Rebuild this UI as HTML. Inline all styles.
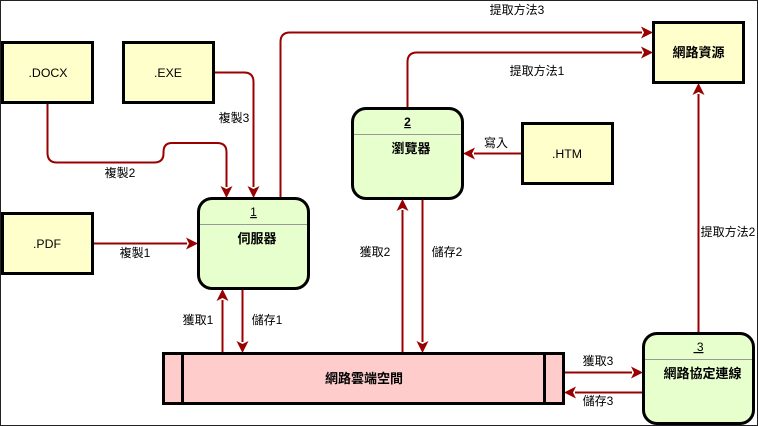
<!DOCTYPE html>
<html><head><meta charset="utf-8"><style>
html,body{margin:0;padding:0;background:#fff;width:758px;height:426px;overflow:hidden}
svg{display:block}
text{font-family:"Liberation Sans","WenQuanYi Zen Hei","Noto Sans CJK TC",sans-serif;font-size:12px;fill:#000;text-anchor:middle}
.b{font-weight:bold;font-size:13px}
.e{font-size:12.300px}
.l{fill:none;stroke:#990000;stroke-width:2}
.a{fill:#990000}
.n{stroke:#000;stroke-width:3}
.d{stroke:#999;stroke-width:1}
</style></head><body>
<svg width="758" height="426" viewBox="0 0 758 426" xmlns="http://www.w3.org/2000/svg">
<rect x="0.500" y="0.500" width="757" height="425" fill="#fff" stroke="#222" stroke-width="1"/>

<!-- connectors -->
<path class="l" d="M47.500 104V153Q47.500 162.500 57 162.500H154Q163.500 162.500 163.500 153.500V152Q163.500 143 172 143H217Q226.500 143 226.500 152V187"/>
<path class="l" d="M214 72.500H244Q253.500 72.500 253.500 82V187"/>
<path class="l" d="M280.500 198V42Q280.500 32.500 290 32.500H642"/>
<path class="l" d="M407.500 108V62Q407.500 52.500 417 52.500H642"/>
<path class="l" d="M522 153.500H474"/>
<path class="l" d="M93 243.500H187"/>
<path class="l" d="M222.500 352V300"/>
<path class="l" d="M242.500 290V342"/>
<path class="l" d="M402.500 352V210"/>
<path class="l" d="M422.500 199V342"/>
<path class="l" d="M698.500 333V94"/>
<path class="l" d="M564 372.500H632"/>
<path class="l" d="M643 392.500H575"/>

<!-- arrowheads -->
<polygon class="a" points="226.500,198 220.500,186 226.500,189 232.500,186"/>
<polygon class="a" points="253.500,198 247.500,186 253.500,189 259.500,186"/>
<polygon class="a" points="653,32.500 641,26.500 644,32.500 641,38.500"/>
<polygon class="a" points="653,52.500 641,46.500 644,52.500 641,58.500"/>
<polygon class="a" points="463,153.500 475,147.500 472,153.500 475,159.500"/>
<polygon class="a" points="198,243.500 186,237.500 189,243.500 186,249.500"/>
<polygon class="a" points="222.500,289 216.500,301 222.500,298 228.500,301"/>
<polygon class="a" points="242.500,353 236.500,341 242.500,344 248.500,341"/>
<polygon class="a" points="402.500,199 396.500,211 402.500,208 408.500,211"/>
<polygon class="a" points="422.500,353 416.500,341 422.500,344 428.500,341"/>
<polygon class="a" points="698.500,83 692.500,95 698.500,92 704.500,95"/>
<polygon class="a" points="643,372.500 631,366.500 634,372.500 631,378.500"/>
<polygon class="a" points="564,392.500 576,386.500 573,392.500 576,398.500"/>

<!-- external entities -->
<rect class="n" x="2.500" y="42.500" width="90" height="60" fill="#ffffcc"/>
<rect class="n" x="123.500" y="42.500" width="90" height="60" fill="#ffffcc"/>
<rect class="n" x="2.500" y="213.500" width="90" height="60" fill="#ffffcc"/>
<rect class="n" x="522.500" y="123.500" width="90" height="60" fill="#ffffcc"/>
<rect class="n" x="653.500" y="22.500" width="90" height="60" fill="#ffffcc"/>

<!-- processes -->
<rect class="n" x="198.500" y="198.500" width="110" height="90" rx="13.500" fill="#e6ffcc"/>
<line class="d" x1="200" y1="224.500" x2="307" y2="224.500"/>
<rect class="n" x="352.500" y="108.500" width="110" height="90" rx="13.500" fill="#e6ffcc"/>
<line class="d" x1="354" y1="134.500" x2="461" y2="134.500"/>
<rect class="n" x="643.500" y="333.500" width="110" height="90" rx="13.500" fill="#e6ffcc"/>
<line class="d" x1="645" y1="359.500" x2="752" y2="359.500"/>

<!-- data store -->
<rect class="n" x="163.500" y="353.500" width="400" height="50" fill="#ffcccc"/>
<line class="n" x1="182.500" y1="353" x2="182.500" y2="404"/>
<line class="n" x1="544.500" y1="353" x2="544.500" y2="404"/>

<!-- node labels -->
<text class="e" x="48" y="77">.DOCX</text>
<text class="e" x="168" y="77">.EXE</text>
<text class="e" x="47" y="248">.PDF</text>
<text class="e" x="567" y="158">.HTM</text>
<text class="b" x="698.500" y="57">網路資源</text>
<text x="253.500" y="216" text-decoration="underline">1</text>
<text class="b" x="257" y="243">伺服器</text>
<text class="b" x="407.500" y="126" style="font-size:12px" text-decoration="underline">2</text>
<text class="b" x="411" y="153">瀏覽器</text>
<text x="698.500" y="351" text-decoration="underline">&#160;3</text>
<text class="b" x="702.500" y="378">網路協定連線</text>
<text class="b" x="364" y="383">網路雲端空間</text>

<!-- connector labels -->
<text x="234" y="122">複製3</text>
<text x="120" y="177">複製2</text>
<text x="135" y="257">複製1</text>
<text x="517" y="14">提取方法3</text>
<text x="537" y="75">提取方法1</text>
<text x="728" y="236">提取方法2</text>
<text x="496" y="147">寫入</text>
<text x="198" y="324">獲取1</text>
<text x="267" y="324">儲存1</text>
<text x="375" y="256">獲取2</text>
<text x="447" y="256">儲存2</text>
<text x="598" y="365">獲取3</text>
<text x="598" y="405">儲存3</text>
</svg>
</body></html>
